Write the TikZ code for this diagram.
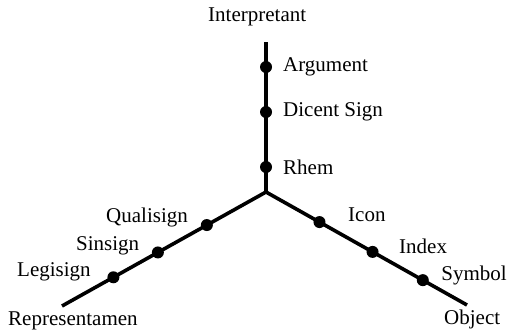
\documentclass[tikz,border=0pt]{standalone}
\usepackage{fontspec}
\setmainfont{Liberation Serif}
\usetikzlibrary{calc}
\begin{document}
\begin{tikzpicture}[x=1bp,y=-1bp,
  axis/.style={line width=3.6bp,black},
  dot/.style={circle,fill=black,inner sep=0pt,minimum size=12bp},
  lbl/.style={font=\fontsize{21bp}{24bp}\selectfont,inner sep=0pt,anchor=west}]
\useasboundingbox (0,0) rectangle (508,332);
\coordinate (c) at (266,192);
\coordinate (top) at (266,42);
\coordinate (left) at (62,306);
\coordinate (right) at (467,305);
\draw[axis] (top) -- (c);
\draw[axis] (c) -- (left);
\draw[axis] (c) -- (right);
\node[dot] (arg) at (266,67) {};
\node[dot] (dic) at (266,112) {};
\node[dot] (rhe) at (266,167) {};
\node[dot] (qua) at ($(c)!0.29!(left)$) {};
\node[dot] (sin) at ($(c)!0.53!(left)$) {};
\node[dot] (leg) at ($(c)!0.748!(left)$) {};
\node[dot] (ico) at ($(c)!0.266!(right)$) {};
\node[dot] (ind) at ($(c)!0.53!(right)$) {};
\node[dot] (sym) at ($(c)!0.78!(right)$) {};
\node[lbl] (tInt) at (208,17) {Interpretant};
\node[lbl] (tArg) at (283,67) {Argument};
\node[lbl] (tDic) at (283,112) {Dicent Sign};
\node[lbl] (tRhe) at (283,167) {Rhem};
\node[lbl] (tQua) at (106,217) {Qualisign};
\node[lbl] (tSin) at (76,246) {Sinsign};
\node[lbl] (tLeg) at (17,272) {Legisign};
\node[lbl] (tRep) at (8,321) {Representamen};
\node[lbl] (tIco) at (348,215) {Icon};
\node[lbl] (tInd) at (399,246) {Index};
\node[lbl,anchor=east] (tSym) at (507,275) {Symbol};
\node[lbl] (tObj) at (444,319) {Object};
\end{tikzpicture}
\end{document}
